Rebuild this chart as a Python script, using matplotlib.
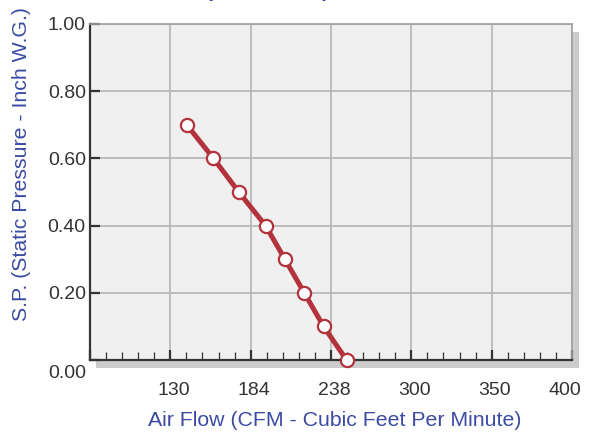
import numpy as np
import matplotlib
matplotlib.use('Agg')
import matplotlib.pyplot as plt
from matplotlib.patches import Rectangle
from matplotlib.ticker import MultipleLocator, FixedLocator
import matplotlib.transforms as mtransforms

plt.rcParams['font.family'] = ['Liberation Sans', 'DejaVu Sans']

# fan curve
cfm = [141, 159, 176, 194, 207, 220, 233, 250]
static_pressure = [0.70, 0.60, 0.50, 0.40, 0.30, 0.20, 0.10, 0.00]

# the x axis is evenly spaced but the labels are not
x_tick_values = [76, 130, 184, 238, 300, 350, 400]
x_tick_labels = ['', '130', '184', '238', '300', '350', '400']
y_ticks = [0.0, 0.2, 0.4, 0.6, 0.8, 1.0]

blue = '#3b4ba3'
red = '#b3323b'
dark = '#333333'

fig = plt.figure(figsize=(5.92, 4.32), dpi=100)
W, H = 592, 432

# drop shadow behind the plot area
shadow = Rectangle((96 / W, (H - 368) / H), 483 / W, 336 / H,
                   transform=fig.transFigure, facecolor='#cccccc',
                   edgecolor='none', zorder=0)
fig.add_artist(shadow)

ax = fig.add_axes([90 / W, (H - 360) / H, 482 / W, 336 / H])
ax.set_zorder(1)
ax.set_facecolor('#f0f0f0')

# map CFM onto the even tick positions
x_pos = np.interp(cfm, x_tick_values, np.arange(len(x_tick_values)))
ax.plot(x_pos, static_pressure, color=red, lw=3.6, marker='o', ms=9.5,
        mfc='white', mec=red, mew=1.6, clip_on=False, zorder=5)

ax.set_xlim(0, len(x_tick_values) - 1)
ax.set_ylim(0, 1.0)
ax.xaxis.set_major_locator(FixedLocator(range(len(x_tick_values))))
ax.xaxis.set_minor_locator(MultipleLocator(0.2))
ax.set_xticklabels(x_tick_labels)
ax.set_yticks(y_ticks)
ax.set_yticklabels(['%.2f' % v for v in y_ticks])

ax.grid(True, which='major', color='#b4b4b4', lw=1.2)
ax.set_axisbelow(True)

ax.tick_params(axis='x', which='major', direction='in', length=7, width=1.6,
               color=dark, pad=16, labelsize=14, labelcolor=dark)
ax.tick_params(axis='x', which='minor', direction='in', length=5.5, width=0.9,
               color=dark)
ax.tick_params(axis='y', which='major', direction='in', length=7.5, width=1.6,
               color=dark, pad=3, labelsize=14, labelcolor=dark)

# labels sit a little right of their ticks, the last one is pulled in
offset = mtransforms.ScaledTranslation(3 / 100, 0, fig.dpi_scale_trans)
labels = ax.get_xticklabels()
for lab in labels:
    lab.set_transform(lab.get_transform() + offset)
last = mtransforms.ScaledTranslation(-10 / 100, 0, fig.dpi_scale_trans)
labels[-1].set_transform(labels[-1].get_transform() + last)

# the 0.00 label hangs below the axis line
ylabels = ax.get_yticklabels()
down = mtransforms.ScaledTranslation(0, -11 / 100, fig.dpi_scale_trans)
ylabels[0].set_transform(ylabels[0].get_transform() + down)

for side in ['left', 'bottom']:
    ax.spines[side].set_color(dark)
    ax.spines[side].set_linewidth(1.6)
for side in ['top', 'right']:
    ax.spines[side].set_color('#a0a0a0')
    ax.spines[side].set_linewidth(1.2)

fig.text(335 / W, (H - 421) / H, 'Air Flow (CFM - Cubic Feet Per Minute)',
         ha='center', va='center', fontsize=15.3, color=blue)
fig.text(22 / W, (H - 164) / H, 'S.P. (Static Pressure - Inch W.G.)',
         ha='center', va='center', rotation=90, fontsize=15.3, color=blue)

# title is cut off at the top edge, only the brackets show
fig.text(268 / W, (H + 3) / H, '(' + ' ' * 19 + ')', ha='center',
         va='baseline', fontsize=15, color=blue, weight='bold')

fig.savefig('out.png', dpi=100)
